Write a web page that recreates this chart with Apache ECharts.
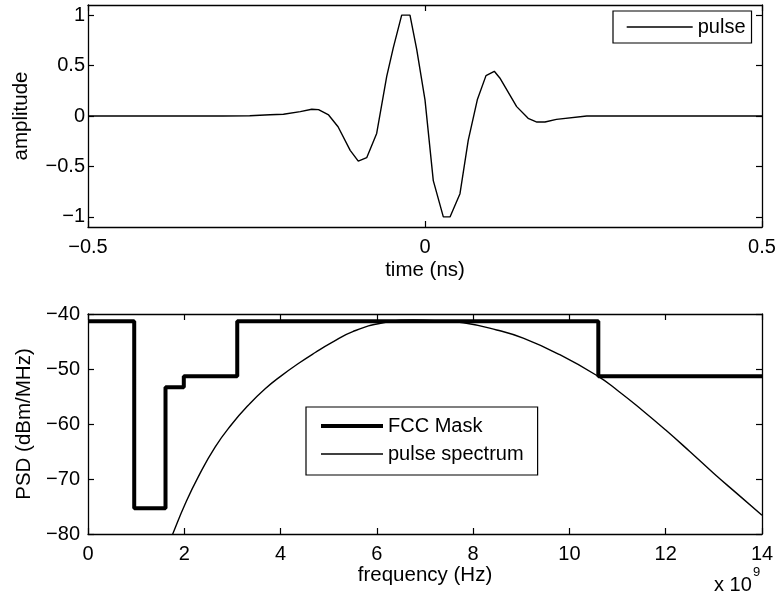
<!DOCTYPE html>
<html>
<head>
<meta charset="utf-8">
<script src="https://cdn.jsdelivr.net/npm/echarts@6/dist/echarts.min.js"></script>
<style>
  html, body { margin: 0; padding: 0; background: #fff; }
  #chart { width: 779px; height: 598px; }
</style>
</head>
<body>
<div id="chart"></div>
<script>
// Gaussian-derivative UWB pulse: time (ns) and normalised amplitude
const pulseTime = [-0.5, -0.30, -0.26, -0.230, -0.210, -0.185, -0.168, -0.158, -0.143, -0.129,
  -0.111, -0.099, -0.0865, -0.0717, -0.0568, -0.047, -0.0346, -0.0223, -0.0123, 0.0,
  0.0123, 0.0272, 0.0371, 0.0519, 0.0642, 0.0776, 0.0905, 0.1028, 0.111, 0.136,
  0.153, 0.166, 0.178, 0.195, 0.24, 0.5];
const pulseAmp = [0, 0, 0.003, 0.013, 0.017, 0.043, 0.067, 0.063, 0.010, -0.107,
  -0.34, -0.447, -0.413, -0.173, 0.393, 0.677, 1.0, 1.0, 0.66, 0.16,
  -0.64, -1.0, -1.0, -0.77, -0.24, 0.16, 0.40, 0.443, 0.377, 0.093,
  -0.023, -0.06, -0.06, -0.033, 0, 0];

// FCC indoor emission mask: band start (GHz) and level (dBm/MHz)
const maskFreq = [0, 0.96, 1.61, 1.99, 3.1, 10.6, 14];
const maskLevel = [-41.3, -75.3, -53.3, -51.3, -41.3, -51.3, -51.3];

// PSD of the pulse (GHz, dBm/MHz)
const specFreq = [1.60, 1.76, 2.02, 2.29, 2.64, 2.99, 3.33, 3.68, 4.02, 4.37,
  4.72, 5.06, 5.50, 6.13, 6.76, 7.20, 7.80, 8.49, 9.04, 9.80,
  10.59, 11.0, 11.5, 12.0, 12.5, 13.0, 13.5, 14.0];
const specPsd = [-83.5, -80.0, -74.5, -69.6, -64.2, -60.0, -56.6, -53.6, -51.2, -49.0,
  -47.0, -45.2, -43.2, -41.6, -41.1, -41.2, -41.6, -42.9, -44.4, -47.4,
  -51.3, -53.9, -57.4, -61.1, -65.0, -69.0, -72.8, -76.6];

// tick positions
const timeTicks = [-0.5, 0, 0.5];
const ampTicks = [-1, -0.5, 0, 0.5, 1];
const freqTicks = [0, 2, 4, 6, 8, 10, 12, 14];
const psdTicks = [-80, -70, -60, -50, -40];

const FONT = 'Liberation Sans, Arial, Helvetica, sans-serif';
const INK = '#000';
const minus = v => String(v).replace('-', '\u2212');

function frameAxis(extra) {
  return Object.assign({
    type: 'value',
    axisLine: { show: true, onZero: false, lineStyle: { color: INK, width: 1.3 } },
    axisTick: { show: true, inside: true, length: 6, lineStyle: { color: INK, width: 1.2 } },
    axisLabel: { show: false },
    splitLine: { show: false }
  }, extra);
}

const labelStyle = { color: INK, fontSize: 20, fontFamily: FONT };
const nameStyle = { color: INK, fontSize: 20.5, fontFamily: FONT };

const chart = echarts.init(document.getElementById('chart'), null, { renderer: 'canvas' });

chart.setOption({
  animation: false,
  backgroundColor: '#fff',
  textStyle: { fontFamily: FONT, color: INK },
  grid: [
    { left: 88, right: 17, top: 5, height: 222 },
    { left: 88, right: 17, top: 314, height: 220 }
  ],
  xAxis: [
    frameAxis({
      gridIndex: 0, position: 'bottom', min: timeTicks[0], max: timeTicks[2], interval: 0.5,
      axisLabel: { show: true, margin: 10, formatter: minus, ...labelStyle },
      name: 'time (ns)', nameLocation: 'middle', nameGap: 33, nameTextStyle: nameStyle
    }),
    frameAxis({ gridIndex: 0, position: 'top', min: timeTicks[0], max: timeTicks[2], interval: 0.5 }),
    frameAxis({
      gridIndex: 1, position: 'bottom', min: freqTicks[0], max: freqTicks[7], interval: 2,
      axisLabel: { show: true, margin: 10, ...labelStyle },
      name: 'frequency (Hz)', nameLocation: 'middle', nameGap: 27, nameTextStyle: nameStyle
    }),
    frameAxis({ gridIndex: 1, position: 'top', min: freqTicks[0], max: freqTicks[7], interval: 2 })
  ],
  yAxis: [
    frameAxis({
      gridIndex: 0, position: 'left', min: -1.1, max: 1.1,
      axisTick: { show: true, inside: true, length: 6, customValues: ampTicks, lineStyle: { color: INK, width: 1.2 } },
      axisLabel: { show: true, margin: 3, customValues: ampTicks, formatter: minus, ...labelStyle },
      name: 'amplitude', nameLocation: 'middle', nameGap: 56, nameTextStyle: nameStyle
    }),
    frameAxis({
      gridIndex: 0, position: 'right', min: -1.1, max: 1.1,
      axisTick: { show: true, inside: true, length: 6, customValues: ampTicks, lineStyle: { color: INK, width: 1.2 } }
    }),
    frameAxis({
      gridIndex: 1, position: 'left', min: psdTicks[0], max: psdTicks[4], interval: 10,
      axisLabel: { show: true, margin: 8, formatter: minus, ...labelStyle },
      name: 'PSD (dBm/MHz)', nameLocation: 'middle', nameGap: 53, nameTextStyle: nameStyle
    }),
    frameAxis({ gridIndex: 1, position: 'right', min: psdTicks[0], max: psdTicks[4], interval: 10 })
  ],
  legend: [
    {
      data: ['pulse'], left: 613, top: 11, orient: 'vertical', selectedMode: false,
      itemWidth: 66, itemHeight: 14, padding: [6, 6, 6, 13],
      itemStyle: { opacity: 0 }, lineStyle: { width: 'inherit' },
      borderColor: INK, borderWidth: 1.2, borderRadius: 0, backgroundColor: '#fff',
      textStyle: { color: INK, fontSize: 20, fontFamily: FONT }
    },
    {
      data: ['FCC Mask', 'pulse spectrum'], left: 306, top: 407, orient: 'vertical', selectedMode: false,
      itemWidth: 62, itemHeight: 14, itemGap: 8, padding: [9, 14, 11, 13],
      itemStyle: { opacity: 0 }, lineStyle: { width: 'inherit' },
      borderColor: INK, borderWidth: 1.2, borderRadius: 0, backgroundColor: '#fff',
      textStyle: { color: INK, fontSize: 20, fontFamily: FONT }
    }
  ],
  graphic: [
    { type: 'text', left: 714, top: 575, style: { text: 'x 10', fill: INK, font: '20px ' + FONT } },
    { type: 'text', left: 753, top: 566, style: { text: '9', fill: INK, font: '13px ' + FONT } }
  ],
  series: [
    {
      name: 'pulse', type: 'line', xAxisIndex: 0, yAxisIndex: 0,
      data: pulseTime.map((t, i) => [t, pulseAmp[i]]),
      symbol: 'none', showSymbol: false, smooth: false,
      color: INK, lineStyle: { color: INK, width: 1.4 }
    },
    {
      name: 'FCC Mask', type: 'line', xAxisIndex: 2, yAxisIndex: 2, step: 'end',
      data: maskFreq.map((f, i) => [f, maskLevel[i]]),
      symbol: 'none', showSymbol: false,
      color: INK, lineStyle: { color: INK, width: 4 }, z: 3
    },
    {
      name: 'pulse spectrum', type: 'line', xAxisIndex: 2, yAxisIndex: 2,
      data: specFreq.map((f, i) => [f, specPsd[i]]),
      symbol: 'none', showSymbol: false, smooth: 0.5, clip: true,
      color: INK, lineStyle: { color: INK, width: 1.4 }, z: 2
    }
  ]
});
</script>
</body>
</html>
